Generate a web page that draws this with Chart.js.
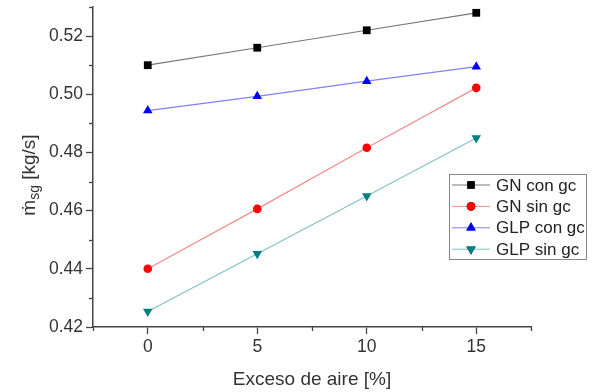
<!DOCTYPE html>
<html>
<head>
<meta charset="utf-8">
<script src="https://cdn.jsdelivr.net/npm/chart.js@4.4.0/dist/chart.umd.min.js"></script>
<style>
  html, body { margin: 0; padding: 0; background: #fff; }
  #c { display: block; }
</style>
</head>
<body>
<canvas id="c" width="596" height="392"></canvas>
<script>
// data
const exceso = [0, 5, 10, 15];
const gnConGc = [0.510, 0.516, 0.522, 0.528];
const gnSinGc = [0.440, 0.4606, 0.4816, 0.5022];
const glpConGc = [0.4944, 0.4993, 0.5045, 0.5095];
const glpSinGc = [0.4253, 0.4452, 0.4650, 0.4850];
const seriesNames = ['GN con gc', 'GN sin gc', 'GLP con gc', 'GLP sin gc'];

const FONT = '"Liberation Sans", Arial, "DejaVu Sans", sans-serif';
const AXIS = '#444';

function pts(ys) {
    return exceso.map((x, i) => ({ x: x, y: ys[i] }));
}

function xMinor(v) { return Math.abs(v % 5) > 1e-9; }
function yMinor(v) { return Math.round(v * 100) % 2 !== 0; }

const axisExtras = {
    id: 'axisExtras',
    afterDraw(chart) {
        const c = chart.ctx;
        const xs = chart.scales.x, ys = chart.scales.y;
        c.save();
        c.strokeStyle = AXIS;
        c.lineWidth = 1.3;
        // minor ticks, shorter than the major ones
        xs.ticks.forEach(t => {
            if (!xMinor(t.value)) return;
            const px = Math.round(xs.getPixelForValue(t.value)) + 0.5;
            c.beginPath(); c.moveTo(px, xs.top); c.lineTo(px, xs.top + 4); c.stroke();
        });
        ys.ticks.forEach(t => {
            if (!yMinor(t.value)) return;
            const py = Math.round(ys.getPixelForValue(t.value)) + 0.5;
            c.beginPath(); c.moveTo(ys.right, py); c.lineTo(ys.right - 4, py); c.stroke();
        });

        // axis titles
        c.fillStyle = '#333';
        c.font = '19px ' + FONT;
        c.textAlign = 'center';
        c.textBaseline = 'middle';
        c.fillText('Exceso de aire [%]', (xs.left + xs.right) / 2, 380);

        c.translate(28, 175);
        c.rotate(-Math.PI / 2);
        c.textAlign = 'left';
        c.textBaseline = 'alphabetic';
        const p1 = '\u1E41', p2 = 'sg', p3 = ' [kg/s]';
        c.font = '19px ' + FONT;
        const w1 = c.measureText(p1).width, w3 = c.measureText(p3).width;
        c.font = '14px ' + FONT;
        const w2 = c.measureText(p2).width;
        let x0 = -(w1 + w2 + w3) / 2;
        c.font = '19px ' + FONT;
        c.fillText(p1, x0, 7);
        c.font = '14px ' + FONT;
        c.fillText(p2, x0 + w1, 11);
        c.font = '19px ' + FONT;
        c.fillText(p3, x0 + w1 + w2, 7);
        c.restore();

        // legend box
        const bx = 449, by = 174, bw = 137, bh = 85;
        c.save();
        c.fillStyle = '#fff';
        c.fillRect(bx, by, bw, bh);
        c.strokeStyle = '#888';
        c.lineWidth = 1;
        c.strokeRect(bx + 0.5, by + 0.5, bw, bh);
        chart.data.datasets.forEach((ds, i) => {
            const ry = 185 + i * 21.4;
            c.strokeStyle = ds.borderColor;
            c.lineWidth = 1;
            c.beginPath(); c.moveTo(452, ry); c.lineTo(490, ry); c.stroke();
            Chart.helpers.drawPoint(c, {
                pointStyle: ds.pointStyle,
                rotation: ds.pointRotation || 0,
                radius: ds.pointRadius,
                borderWidth: 0
            }, 471, ry);
            c.fillStyle = ds.pointBackgroundColor;
            c.fill();
            c.fillStyle = '#222';
            c.font = '17px ' + FONT;
            c.textAlign = 'left';
            c.textBaseline = 'middle';
            c.fillText(ds.label, 496, ry + 1);
        });
        c.restore();
    }
};

new Chart(document.getElementById('c'), {
    type: 'line',
    data: {
        datasets: [
            { label: seriesNames[0], data: pts(gnConGc), borderColor: '#777', pointBackgroundColor: '#000',
              pointBorderColor: '#000', pointStyle: 'rect', pointRadius: 5.5 },
            { label: seriesNames[1], data: pts(gnSinGc), borderColor: '#f28c8c', pointBackgroundColor: '#f00',
              pointBorderColor: '#f00', pointStyle: 'circle', pointRadius: 4.3 },
            { label: seriesNames[2], data: pts(glpConGc), borderColor: '#8080ff', pointBackgroundColor: '#00f',
              pointBorderColor: '#00f', pointStyle: 'triangle', pointRadius: 5.5 },
            { label: seriesNames[3], data: pts(glpSinGc), borderColor: '#86c2c2', pointBackgroundColor: '#008080',
              pointBorderColor: '#008080', pointStyle: 'triangle', pointRotation: 180, pointRadius: 5.5 }
        ]
    },
    options: {
        responsive: false,
        animation: false,
        layout: { padding: { top: 7, right: 65, left: 0, bottom: 0 } },
        elements: {
            line: { borderWidth: 1.2, tension: 0 },
            point: { borderWidth: 0 }
        },
        plugins: {
            legend: { display: false },
            tooltip: { enabled: false }
        },
        scales: {
            x: {
                type: 'linear',
                min: -2.5, max: 17.5,
                afterFit(s) { s.height = 65; },
                border: { color: AXIS, width: 1.5 },
                grid: {
                    drawOnChartArea: false, drawTicks: true, tickLength: 7,
                    tickColor: ctx => (ctx.tick && xMinor(ctx.tick.value)) ? 'rgba(0,0,0,0)' : AXIS,
                    tickWidth: 1.3
                },
                ticks: {
                    stepSize: 2.5, padding: 3, color: '#333',
                    font: ctx => ({ size: (ctx.tick && xMinor(ctx.tick.value)) ? 1 : 17.5, family: FONT }),
                    callback: v => (xMinor(v) ? '' : String(v))
                }
            },
            y: {
                min: 0.42, max: 0.53,
                afterFit(s) { s.width = 93; },
                border: { color: AXIS, width: 1.5 },
                grid: {
                    drawOnChartArea: false, drawTicks: true, tickLength: 7,
                    tickColor: ctx => (ctx.tick && yMinor(ctx.tick.value)) ? 'rgba(0,0,0,0)' : AXIS,
                    tickWidth: 1.3
                },
                ticks: {
                    stepSize: 0.01, padding: 3, color: '#333',
                    font: ctx => ({ size: (ctx.tick && yMinor(ctx.tick.value)) ? 1 : 17.5, family: FONT }),
                    callback: v => (yMinor(v) ? '' : v.toFixed(2))
                }
            }
        }
    },
    plugins: [axisExtras]
});
</script>
</body>
</html>
